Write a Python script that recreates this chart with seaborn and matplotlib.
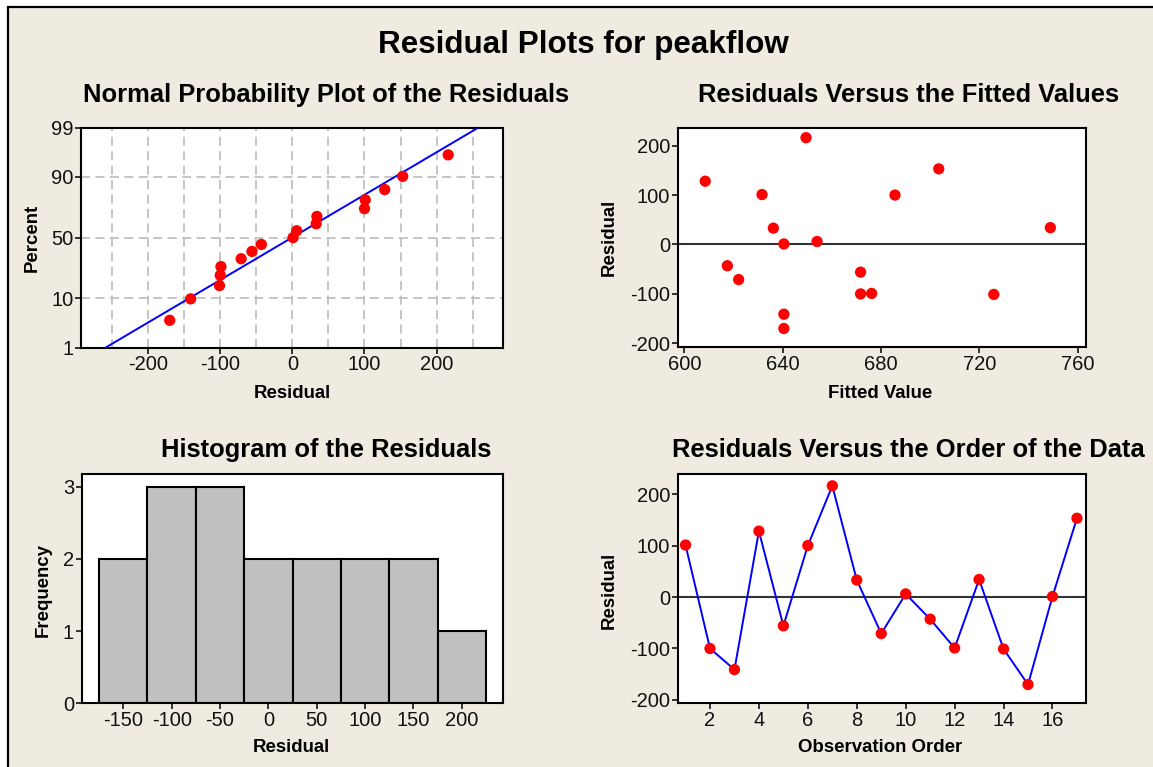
import numpy as np
import pandas as pd
import matplotlib
matplotlib.use("Agg")
import matplotlib.pyplot as plt
import seaborn as sns
from statistics import NormalDist
from matplotlib.patches import Rectangle
from matplotlib.ticker import FixedLocator, MultipleLocator

# ---------------- data ----------------
observation = list(range(1, 18))
residual = [101, -100, -141, 128, -56, 100, 216, 33, -71, 6, -43, -99, 34, -101, -170, 1, 153]
fitted = [631.6, 671.7, 640.5, 608.5, 671.7, 685.7, 649.5, 636.2, 622.1, 654.0,
          617.5, 676.2, 748.9, 725.9, 640.5, 640.5, 703.5]
hist_edges = [-175, -125, -75, -25, 25, 75, 125, 175, 225]
prob_ticks = [1, 10, 50, 90, 99]

title_main = "Residual Plots for peakflow"
titles = ["Normal Probability Plot of the Residuals", "Residuals Versus the Fitted Values",
          "Histogram of the Residuals", "Residuals Versus the Order of the Data"]

df = pd.DataFrame({"obs": observation, "res": residual, "fit": fitted})

# ---------------- style ----------------
sns.set_style("ticks")
BOLD = ["Liberation Sans", "DejaVu Sans"]
TICKF = ["Liberation Sans", "DejaVu Sans"]
plt.rcParams["font.family"] = TICKF
plt.rcParams["axes.unicode_minus"] = False
plt.rcParams["axes.linewidth"] = 1.5
plt.rcParams["axes.edgecolor"] = "black"
plt.rcParams["text.color"] = "black"
plt.rcParams["axes.labelcolor"] = "black"
plt.rcParams["xtick.color"] = "black"
plt.rcParams["ytick.color"] = "black"

W, H = 1153, 767
fig = plt.figure(figsize=(W / 100, H / 100), dpi=100, facecolor="white")

# beige panel with black frame
bg = Rectangle((8 / W, -0.05), 1.2, 1.05 - 7 / H, transform=fig.transFigure,
               facecolor="#EFEBE1", edgecolor="black", lw=1.6, zorder=-10)
fig.add_artist(bg)


def rect(l, t, r, b):
    return [l / W, 1 - b / H, (r - l) / W, (b - t) / H]


def fx(px):
    return px / W


def fyy(py):
    return 1 - py / H


ax1 = fig.add_axes(rect(81, 127.5, 503, 347.7))
ax2 = fig.add_axes(rect(677.7, 128.3, 1086, 347.3))
ax3 = fig.add_axes(rect(81.7, 474, 503.3, 703.3))
ax4 = fig.add_axes(rect(677.7, 474, 1086, 703.3))

RED = "#FF0000"
BLUE = "#0000FF"
MS = 66

# ---- 1. normal probability plot ----
nd = NormalDist()
sorted_res = np.sort(np.array(residual, dtype=float))
n = len(sorted_res)
pp = (np.arange(1, n + 1) - 0.3) / (n + 0.4)
prob_df = pd.DataFrame({"res": sorted_res, "z": [nd.inv_cdf(v) for v in pp]})
zlo, zhi = nd.inv_cdf(0.01), nd.inv_cdf(0.99)
mu, sd = float(np.mean(residual)), float(np.std(residual, ddof=1))
line_df = pd.DataFrame({"z": [zlo, zhi]})
line_df["res"] = mu + sd * line_df["z"]

ax1.set_axisbelow(True)
sns.lineplot(data=line_df, x="res", y="z", ax=ax1, color=BLUE, lw=1.4, zorder=3)
sns.scatterplot(data=prob_df, x="res", y="z", ax=ax1, color=RED, s=MS, edgecolor="none", zorder=4)
ax1.set_xlim(-293, 292)
ax1.set_ylim(zlo, zhi)
ax1.yaxis.set_major_locator(FixedLocator([nd.inv_cdf(p / 100) for p in prob_ticks]))
ax1.set_yticklabels([str(p) for p in prob_ticks])
ax1.xaxis.set_major_locator(FixedLocator([-200, -100, 0, 100, 200]))
ax1.xaxis.set_minor_locator(MultipleLocator(50))
for xv in np.arange(-250, 251, 50):
    ax1.axvline(xv, color="#C0C0C0", lw=1.3, ls=(0, (5, 3)), zorder=1)
for p in [10, 50, 90]:
    ax1.axhline(nd.inv_cdf(p / 100), color="#C0C0C0", lw=1.3, ls=(0, (5, 3)), zorder=1)

# ---- 2. residuals vs fitted ----
ax2.axhline(0, color="#333333", lw=1.5, zorder=1)
sns.scatterplot(data=df, x="fit", y="res", ax=ax2, color=RED, s=MS, edgecolor="none", zorder=4)
ax2.set_xlim(597.3, 763.4)
ax2.set_ylim(-208, 235)
ax2.xaxis.set_major_locator(FixedLocator([600, 640, 680, 720, 760]))
ax2.yaxis.set_major_locator(FixedLocator([-200, -100, 0, 100, 200]))

# ---- 3. histogram ----
sns.histplot(data=df, x="res", bins=hist_edges, ax=ax3, color="#C0C0C0", alpha=1,
             edgecolor="black", linewidth=1.5)
ax3.set_xlim(-193, 243)
ax3.set_ylim(0, 3.175)
ax3.xaxis.set_major_locator(FixedLocator([-150, -100, -50, 0, 50, 100, 150, 200]))
ax3.yaxis.set_major_locator(FixedLocator([0, 1, 2, 3]))

# ---- 4. residuals vs order ----
ax4.axhline(0, color="#333333", lw=1.5, zorder=1)
sns.lineplot(data=df, x="obs", y="res", ax=ax4, color=BLUE, lw=1.4, zorder=3)
sns.scatterplot(data=df, x="obs", y="res", ax=ax4, color=RED, s=MS, edgecolor="none", zorder=4)
ax4.set_xlim(0.68, 17.37)
ax4.set_ylim(-206.5, 239)
ax4.xaxis.set_major_locator(FixedLocator(list(range(2, 17, 2))))
ax4.yaxis.set_major_locator(FixedLocator([-200, -100, 0, 100, 200]))

# ---- common styling ----
for ax in (ax1, ax2, ax3, ax4):
    ax.set_facecolor("white")
    for s in ax.spines.values():
        s.set_visible(True)
        s.set_linewidth(1.5)
        s.set_color("black")
    ax.tick_params(axis="both", which="major", direction="out", length=4, width=1.1,
                   color="black", labelsize=14.5, pad=1.5, labelcolor="#111111")
    ax.tick_params(axis="both", which="minor", length=0)

label_pos = {
    ax1: (("Residual", 292, 393), ("Percent", 32, 238)),
    ax2: (("Fitted Value", 880, 393), ("Residual", 609, 237)),
    ax3: (("Residual", 291, 748), ("Frequency", 43, 590)),
    ax4: (("Observation Order", 880, 748), ("Residual", 609, 590)),
}
for ax, ((xl, xx, xy), (yl, yx, yy)) in label_pos.items():
    ax.set_xlabel(xl, fontsize=13.4, fontweight="bold", family=BOLD, color="black")
    ax.set_ylabel(yl, fontsize=13.4, fontweight="bold", family=BOLD, color="black")
    ax.xaxis.set_label_coords(fx(xx), fyy(xy), transform=fig.transFigure)
    ax.yaxis.set_label_coords(fx(yx), fyy(yy), transform=fig.transFigure)
    ax.xaxis.label.set_va("center")
    ax.yaxis.label.set_va("center")
    ax.yaxis.label.set_ha("center")

fig.text(fx(583), fyy(53.5), title_main, ha="center", va="baseline", fontsize=22.6,
         fontweight="bold", family=BOLD, color="black")
for t, (cx, by) in zip(titles, [(326, 101.7), (909, 101.7), (326, 457), (908, 457)]):
    fig.text(fx(cx), fyy(by), t, ha="center", va="baseline", fontsize=18.4,
             fontweight="bold", family=BOLD, color="black")

fig.savefig("out.png", dpi=100, facecolor="white")
